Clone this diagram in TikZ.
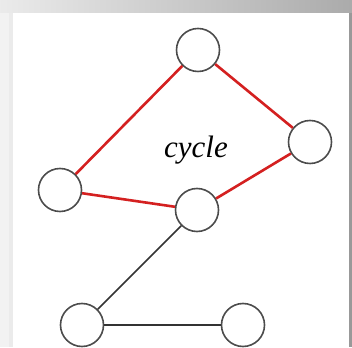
\documentclass[tikz,border=0pt]{standalone}
\usepackage{fontspec}
\setmainfont{Liberation Serif}
\begin{document}
\begin{tikzpicture}[x=1pt,y=1pt,
  vert/.style={circle,draw=black!70,line width=1.6pt,fill=white,minimum size=43pt,inner sep=0pt},
  cyc/.style={draw={rgb,255:red,212;green,32;blue,32},line width=2.6pt},
  plain/.style={draw=black!80,line width=1.5pt}]
\useasboundingbox (0,0) rectangle (352,347);
\clip (0,0) rectangle (352,347);
\fill[white] (0,0) rectangle (352,347);
\shade[left color=black!8,right color=black!33] (0,334) rectangle (352,347);
\fill[black!5] (0,0) rectangle (13,334);
\fill[black!8] (9,0) rectangle (13,334);
\fill[black!40] (349,0) rectangle (352,334);
\node[vert] (t) at (198,297) {};
\node[vert] (r) at (310,205) {};
\node[vert] (l) at (60,157) {};
\node[vert] (m) at (197,137) {};
\node[vert] (bl) at (82,22) {};
\node[vert] (br) at (243,22) {};
\node (lbl) at (196,197) {\fontsize{31}{31}\selectfont\itshape cycle};
\path[cyc] (t) -- (l);
\path[cyc] (t) -- (r);
\path[cyc] (r) -- (m);
\path[cyc] (l) -- (m);
\path[plain] (m) -- (bl);
\path[plain] (bl) -- (br);
\end{tikzpicture}
\end{document}
